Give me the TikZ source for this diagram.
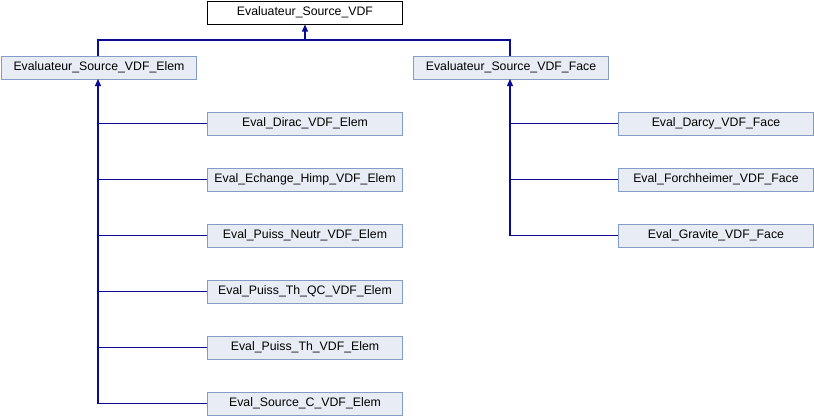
\documentclass[tikz,border=0pt]{standalone}
\usepackage{fontspec}
\setmainfont{Liberation Sans}
\usetikzlibrary{arrows.meta}
\definecolor{edgeblue}{RGB}{10,10,150}
\definecolor{boxfill}{RGB}{232,236,244}
\definecolor{boxdraw}{RGB}{132,155,201}
\begin{document}
\begin{tikzpicture}[x=1pt,y=-1pt,
  cls/.style={draw=boxdraw,fill=boxfill,line width=1pt,minimum width=195pt,minimum height=23pt,inner sep=0pt,font=\fontsize{12.3}{14}\selectfont,anchor=west},
  rootcls/.style={cls,draw=black,fill=white},
  inh/.style={draw=edgeblue,line width=1.2pt,-{Triangle[length=7pt,width=6pt]}},
  lnk/.style={draw=edgeblue,line width=1.2pt}]
\useasboundingbox (0,0) rectangle (814,416);
\node[rootcls] (root) at (207,12.5) {Evaluateur\_Source\_VDF};
\node[cls] (elem) at (1,67.5) {Evaluateur\_Source\_VDF\_Elem};
\node[cls] (face) at (413,67.5) {Evaluateur\_Source\_VDF\_Face};
\node[cls] (e1) at (207,123.5) {Eval\_Dirac\_VDF\_Elem};
\node[cls] (e2) at (207,179.5) {Eval\_Echange\_Himp\_VDF\_Elem};
\node[cls] (e3) at (207,235.5) {Eval\_Puiss\_Neutr\_VDF\_Elem};
\node[cls] (e4) at (207,291.5) {Eval\_Puiss\_Th\_QC\_VDF\_Elem};
\node[cls] (e5) at (207,347.5) {Eval\_Puiss\_Th\_VDF\_Elem};
\node[cls] (e6) at (207,403.5) {Eval\_Source\_C\_VDF\_Elem};
\node[cls] (f1) at (618,123.5) {Eval\_Darcy\_VDF\_Face};
\node[cls] (f2) at (618,179.5) {Eval\_Forchheimer\_VDF\_Face};
\node[cls] (f3) at (618,235.5) {Eval\_Gravite\_VDF\_Face};
% root links
\coordinate (j0) at (root.south |- 0,40);
\draw[lnk] (elem.north -| 98,0) |- (j0) -| (face.north -| 510,0);
\draw[inh] (j0) -- (root.south);
% elem links
\draw[inh] (98,403.5) -- (98,79);
\foreach \n in {e1,e2,e3,e4,e5,e6} {\draw[lnk] (\n.west) -- (\n.west -| 98,0);}
% face links
\draw[inh] (510,235.5) -- (510,79);
\foreach \n in {f1,f2,f3} {\draw[lnk] (\n.west) -- (\n.west -| 510,0);}
\end{tikzpicture}
\end{document}
